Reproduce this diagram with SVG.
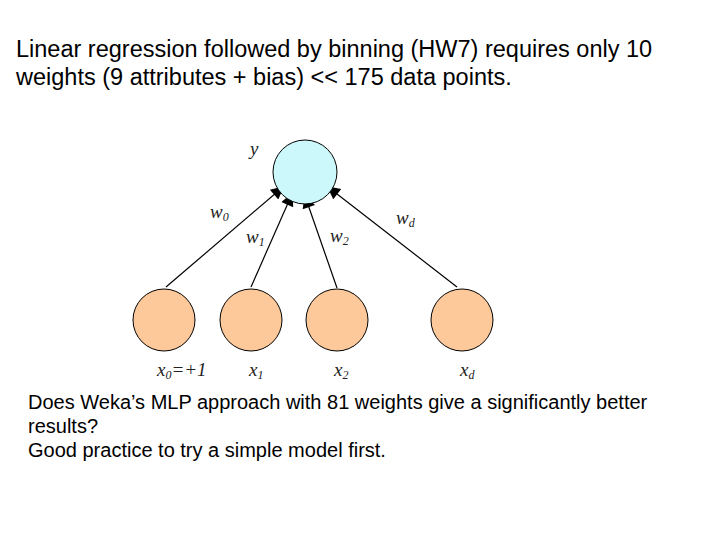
<svg xmlns="http://www.w3.org/2000/svg" width="720" height="540" viewBox="0 0 720 540">
<style>
.t{font-family:"Liberation Sans",Arial,sans-serif;font-size:23.5px;fill:#000}
.b{font-size:20px}
.m{font-family:"Liberation Serif","Times New Roman",serif;font-style:italic;font-size:19px;fill:#222}
.s{font-size:12px}
.in{fill:#fdc99a;stroke:#000;stroke-width:1}
</style>
<defs><marker id="b" viewBox="0 0 10 10" refX="9" refY="5" markerWidth="16" markerHeight="13" markerUnits="userSpaceOnUse" orient="auto"><path d="M0,0L10,5L0,10z" fill="#000"/></marker></defs>
<rect width="720" height="540" fill="#fff"/>
<text class="t" x="16" y="57">Linear regression followed by binning (HW7) requires only 10</text>
<text class="t" x="16" y="85">weights (9 attributes + bias) &lt;&lt; 175 data points.</text>
<g id="connectors" stroke="#000" stroke-width="1.2">
<line x1="166" y1="287" x2="283" y2="187" marker-end="url(#b)"/>
<line x1="251" y1="287" x2="292" y2="194" marker-end="url(#b)"/>
<line x1="337" y1="288" x2="305" y2="196" marker-end="url(#b)"/>
<line x1="457" y1="287" x2="328" y2="187" marker-end="url(#b)"/>
</g>
<g id="y"><circle cx="305" cy="172" r="32" fill="#ccf8fb" stroke="#000"/><text class="m" x="250" y="155">y</text></g>
<g id="x0"><circle class="in" cx="164" cy="320" r="31"/><text class="m" x="157" y="376">x<tspan class="s" dy="3">0</tspan><tspan dy="-3">=+1</tspan></text></g>
<g id="x1"><circle class="in" cx="251" cy="320" r="31"/><text class="m" x="249" y="376">x<tspan class="s" dy="3">1</tspan></text></g>
<g id="x2"><circle class="in" cx="337" cy="320" r="31"/><text class="m" x="334" y="376">x<tspan class="s" dy="3">2</tspan></text></g>
<g id="xd"><circle class="in" cx="462" cy="320" r="31"/><text class="m" x="460" y="376">x<tspan class="s" dy="3">d</tspan></text></g>
<g id="weights">
<text class="m" x="210" y="218">w<tspan class="s" dy="3">0</tspan></text>
<text class="m" x="246" y="243">w<tspan class="s" dy="3">1</tspan></text>
<text class="m" x="330" y="242">w<tspan class="s" dy="3">2</tspan></text>
<text class="m" x="396" y="224">w<tspan class="s" dy="3">d</tspan></text>
</g>
<text class="t b" x="28" y="409">Does Weka’s MLP approach with 81 weights give a significantly better</text>
<text class="t b" x="28" y="433">results?</text>
<text class="t b" x="28" y="457">Good practice to try a simple model first.</text>
</svg>
